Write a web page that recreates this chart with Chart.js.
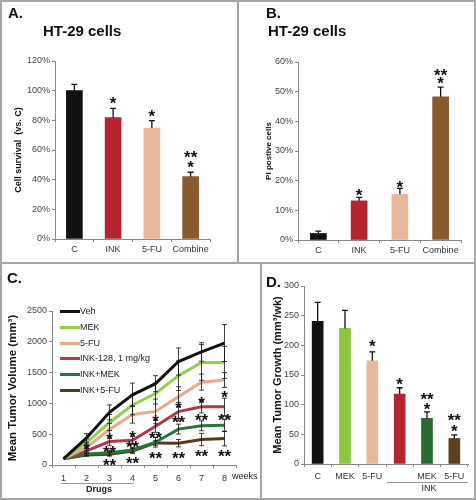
<!DOCTYPE html>
<html>
<head>
<meta charset="utf-8">
<script src="https://cdn.jsdelivr.net/npm/chart.js@4.4.0/dist/chart.umd.min.js"></script>
<style>
  body { margin: 0; background: #fff; }
  #fig { position: relative; width: 476px; height: 500px; overflow: hidden;
         font-family: 'Liberation Sans', Arial, sans-serif; color: #111; }
  #fig canvas { position: absolute; }
  .frame { position: absolute; left: 0; top: 0; width: 476px; height: 500px;
           box-sizing: border-box; border: 2px solid #a6a6a6; }
  .rule { position: absolute; background: #a6a6a6; }
  .lbl { position: absolute; white-space: nowrap; line-height: 1; }
  .panel { font-size: 15px; font-weight: bold; }
  .small { font-size: 9px; color: #222; }
  .swatch { position: absolute; width: 20px; height: 3px; }
</style>
</head>
<body>
<div id="fig">
  <div class="frame"></div>
  <div class="rule" style="left:237px;top:0;width:1.5px;height:263px"></div>
  <div class="rule" style="left:0;top:262px;width:476px;height:1.5px"></div>
  <div class="rule" style="left:260px;top:262px;width:1.5px;height:238px"></div>

  <canvas id="chartA" width="238" height="262" style="left:0;top:0"></canvas>
  <canvas id="chartB" width="238" height="262" style="left:238px;top:0"></canvas>
  <canvas id="chartC" width="261" height="238" style="left:0;top:262px"></canvas>
  <canvas id="chartD" width="215" height="238" style="left:261px;top:262px"></canvas>

  <div class="lbl panel" style="left:8px;top:5px">A.</div>
  <div class="lbl panel" style="left:43px;top:23px">HT-29 cells</div>
  <div class="lbl panel" style="left:266px;top:5px">B.</div>
  <div class="lbl panel" style="left:268px;top:23px">HT-29 cells</div>
  <div class="lbl panel" style="left:7px;top:270px">C.</div>
  <div class="lbl panel" style="left:266px;top:274px">D.</div>

  <div class="lbl small" style="left:232px;top:472px">weeks</div>
  <div class="rule" style="left:61px;top:483px;width:73px;height:1px;background:#999"></div>
  <div class="lbl small" style="left:86px;top:485px;font-weight:bold">Drugs</div>
  <div class="rule" style="left:387px;top:482px;width:81px;height:1px;background:#999"></div>
  <div class="lbl small" style="left:429px;top:484px;transform:translateX(-50%)">INK</div>

  <div id="legendC"></div>
</div>

<script>
/* ---- A: cell survival ---- */
const abLabels     = ['C', 'INK', '5-FU', 'Combine'];
const survival     = [100, 81.8, 74.8, 42];
const survivalErr  = [4.3, 6.3, 5, 3];
const survivalStars = [[1, 93.7, '*'], [2, 85.4, '*'], [3, 57.6, '**'], [3, 50.9, '*']];

/* ---- B: PI positive ---- */
const piPositive     = [2.2, 13.2, 15.4, 48.3];
const piPositiveErr  = [0.8, 1.2, 2, 3.2];
const piStars = [[1, 16.4, '*'], [2, 19, '*'], [3, 56.7, '**'], [3, 53.9, '*']];

/* ---- C: tumor volume by week ---- */
const weeks = ['1', '2', '3', '4', '5', '6', '7', '8'];
const seriesNames = ['Veh', 'MEK', '5-FU', 'INK-128, 1 mg/kg', 'INK+MEK', 'INK+5-FU'];
const vehVol    = [100, 440, 855, 1140, 1320, 1680, 1835, 1980];
const mekVol    = [100, 365, 690, 975, 1160, 1450, 1665, 1665];
const fuVol     = [100, 290, 575, 820, 870, 1110, 1345, 1380];
const inkVol    = [100, 230, 380, 400, 630, 866, 945, 945];
const inkMekVol = [100, 180, 200, 245, 370, 583, 637, 644];
const inkFuVol  = [100, 163, 174, 228, 359, 354, 413, 430];
const vehErr    = [0, 70, 120, 190, 130, 220, 150, 300];
const mekErr    = [0, 60, 130, 160, 170, 240, 290, 260];
const fuErr     = [0, 50, 100, 140, 200, 160, 130, 120];
const inkErr    = [0, 40, 60, 70, 100, 150, 100, 140];
const inkMekErr = [0, 30, 40, 40, 80, 80, 80, 100];
const inkFuErr  = [0, 20, 30, 40, 40, 60, 100, 120];
const volStars = [
  [1, 315, '*'],
  [2, 480, '*'], [2, 270, '**'], [2, 54, '**'],
  [3, 505, '*'], [3, 348, '**'], [3, 80, '**'],
  [4, 775, '*'], [4, 495, '**'], [4, 175, '**'],
  [5, 980, '*'], [5, 745, '**'], [5, 162, '**'],
  [6, 1055, '*'], [6, 785, '**'], [6, 197, '**'],
  [7, 1155, '*'], [7, 785, '**'], [7, 197, '**']
];

/* ---- D: tumor growth ---- */
const dLabels    = ['C', 'MEK', '5-FU', '', 'MEK', '5-FU'];
const growth     = [240.5, 228.5, 174, 118, 77, 43];
const growthErr  = [32, 30.5, 15, 10.5, 11, 6];
const growthStars = [[2, 204, '*'], [3, 140, '*'], [4, 115, '**'], [4, 99, '*'], [5, 80, '**'], [5, 62, '*']];

/* colours */
const cBlack = '#111111', cRed = '#b5252f', cPeach = '#e8b89c', cBrown = '#8a5a2e';
const cLime = '#8dc63f', cDkGreen = '#2a6b34', cDkBrown = '#5b3f1e';
const lineColours = ['#111111', '#8ed24a', '#e9a98b', '#b03a4a', '#1f7a3a', '#5a3a1c'];

const FONT = "'Liberation Sans', Arial, sans-serif";
Chart.defaults.font.family = FONT;
Chart.defaults.color = '#333';
Chart.defaults.animation = false;

/* error bars + significance stars, placed through the chart scales */
const marks = {
  id: 'marks',
  afterDatasetsDraw(chart, args, opts) {
    const { ctx, scales: { x, y } } = chart;
    ctx.save();
    ctx.strokeStyle = '#111';
    ctx.lineWidth = opts.lineWidth || 1;
    (opts.errors || []).forEach((errs, d) => {
      const meta = chart.getDatasetMeta(d);
      const vals = chart.data.datasets[d].data;
      meta.data.forEach((el, i) => {
        const e = errs[i];
        if (!e) return;
        const top = y.getPixelForValue(vals[i] + e);
        const bot = y.getPixelForValue(opts.both ? vals[i] - e : vals[i]);
        const c = opts.cap;
        ctx.beginPath();
        ctx.moveTo(el.x, bot); ctx.lineTo(el.x, top);
        ctx.moveTo(el.x - c, top); ctx.lineTo(el.x + c, top);
        if (opts.both) { ctx.moveTo(el.x - c, bot); ctx.lineTo(el.x + c, bot); }
        ctx.stroke();
      });
    });
    const sz = opts.starSize || 17;
    ctx.fillStyle = '#111';
    ctx.font = `bold ${sz}px ${FONT}`;
    ctx.textAlign = 'center';
    ctx.textBaseline = 'alphabetic';
    (opts.stars || []).forEach(([at, v, t]) => {
      ctx.fillText(t, x.getPixelForValue(at), y.getPixelForValue(v) + sz * 0.55);
    });
    ctx.restore();
  }
};

function yAxis(min, max, step, width, title, titleSize, titlePad, fmt) {
  return {
    min, max,
    afterFit: s => { s.width = width; },
    border: { color: '#888', width: 1 },
    grid: { drawOnChartArea: false, tickLength: 3, color: '#888' },
    ticks: { stepSize: step, padding: 2, font: { size: 9 }, color: '#444', callback: fmt || (v => v) },
    title: { display: true, text: title, color: '#111',
             font: { size: titleSize, weight: 'bold' }, padding: { top: titlePad, bottom: 0 } }
  };
}

function xAxis(height, pad) {
  return {
    offset: true,
    afterFit: s => { s.height = height; },
    border: { color: '#888', width: 1 },
    grid: { drawOnChartArea: false, tickLength: 3, color: '#888', offset: true },
    ticks: { padding: pad, font: { size: 9 }, color: '#333', maxRotation: 0, autoSkip: false }
  };
}

function barChart(id, labels, values, colours, thickness, padding, y, x, errs, stars) {
  return new Chart(document.getElementById(id), {
    type: 'bar',
    data: { labels, datasets: [{ data: values, backgroundColor: colours, barThickness: thickness, borderWidth: 0 }] },
    options: {
      responsive: false,
      devicePixelRatio: 1,
      layout: { padding },
      plugins: {
        legend: { display: false }, tooltip: { enabled: false },
        marks: { errors: [errs], stars, cap: 3, lineWidth: 1.3, starSize: 17 }
      },
      scales: { x, y }
    },
    plugins: [marks]
  });
}

const pct = v => v + '%';

barChart('chartA', abLabels, survival, [cBlack, cRed, cPeach, cBrown], 16,
  { left: 0, top: 61, right: 28, bottom: 3 },
  yAxis(0, 120, 20, 55, 'Cell survival  (vs. C)', 9, 13, pct),
  xAxis(20, 2), survivalErr, survivalStars);

barChart('chartB', abLabels, piPositive, [cBlack, cRed, cPeach, cBrown], 16,
  { left: 0, top: 62, right: 15, bottom: 2 },
  yAxis(0, 60, 10, 60, 'PI postive cells', 8, 26, pct),
  xAxis(20, 2), piPositiveErr, piStars);

barChart('chartD', dLabels, growth, [cBlack, cLime, cPeach, cRed, cDkGreen, cDkBrown], 11,
  { left: 0, top: 24, right: 8, bottom: 16 },
  yAxis(0, 300, 50, 43, 'Mean Tumor Growth (mm³/wk)', 11, 10),
  xAxis(20, 4), growthErr, growthStars);

/* C: line chart */
const volSeries = [vehVol, mekVol, fuVol, inkVol, inkMekVol, inkFuVol];
const volErrs = [vehErr, mekErr, fuErr, inkErr, inkMekErr, inkFuErr];
new Chart(document.getElementById('chartC'), {
  type: 'line',
  data: {
    labels: weeks,
    datasets: volSeries.map((d, i) => ({
      label: seriesNames[i], data: d, borderColor: lineColours[i],
      borderWidth: 3, pointRadius: 0, tension: 0, fill: false
    }))
  },
  options: {
    responsive: false,
    devicePixelRatio: 1,
    layout: { padding: { left: 0, top: 49, right: 25, bottom: 15 } },
    plugins: {
      legend: { display: false }, tooltip: { enabled: false },
      marks: { errors: volErrs, both: true, stars: volStars, cap: 2.5, lineWidth: 0.8, starSize: 17 }
    },
    scales: {
      x: xAxis(20, 5),
      y: yAxis(0, 2500, 500, 52, 'Mean Tumor Volume (mm³)', 11.5, 6)
    }
  },
  plugins: [marks]
});

/* legend for C, built from the series names */
const legendRows = [311, 327, 343, 358, 374, 390];
document.getElementById('legendC').innerHTML = seriesNames.map((n, i) =>
  `<div class="swatch" style="left:60px;top:${legendRows[i] - 1.5}px;background:${lineColours[i]}"></div>` +
  `<div class="lbl small" style="left:80px;top:${legendRows[i] - 4.5}px">${n}</div>`
).join('');
</script>
</body>
</html>
